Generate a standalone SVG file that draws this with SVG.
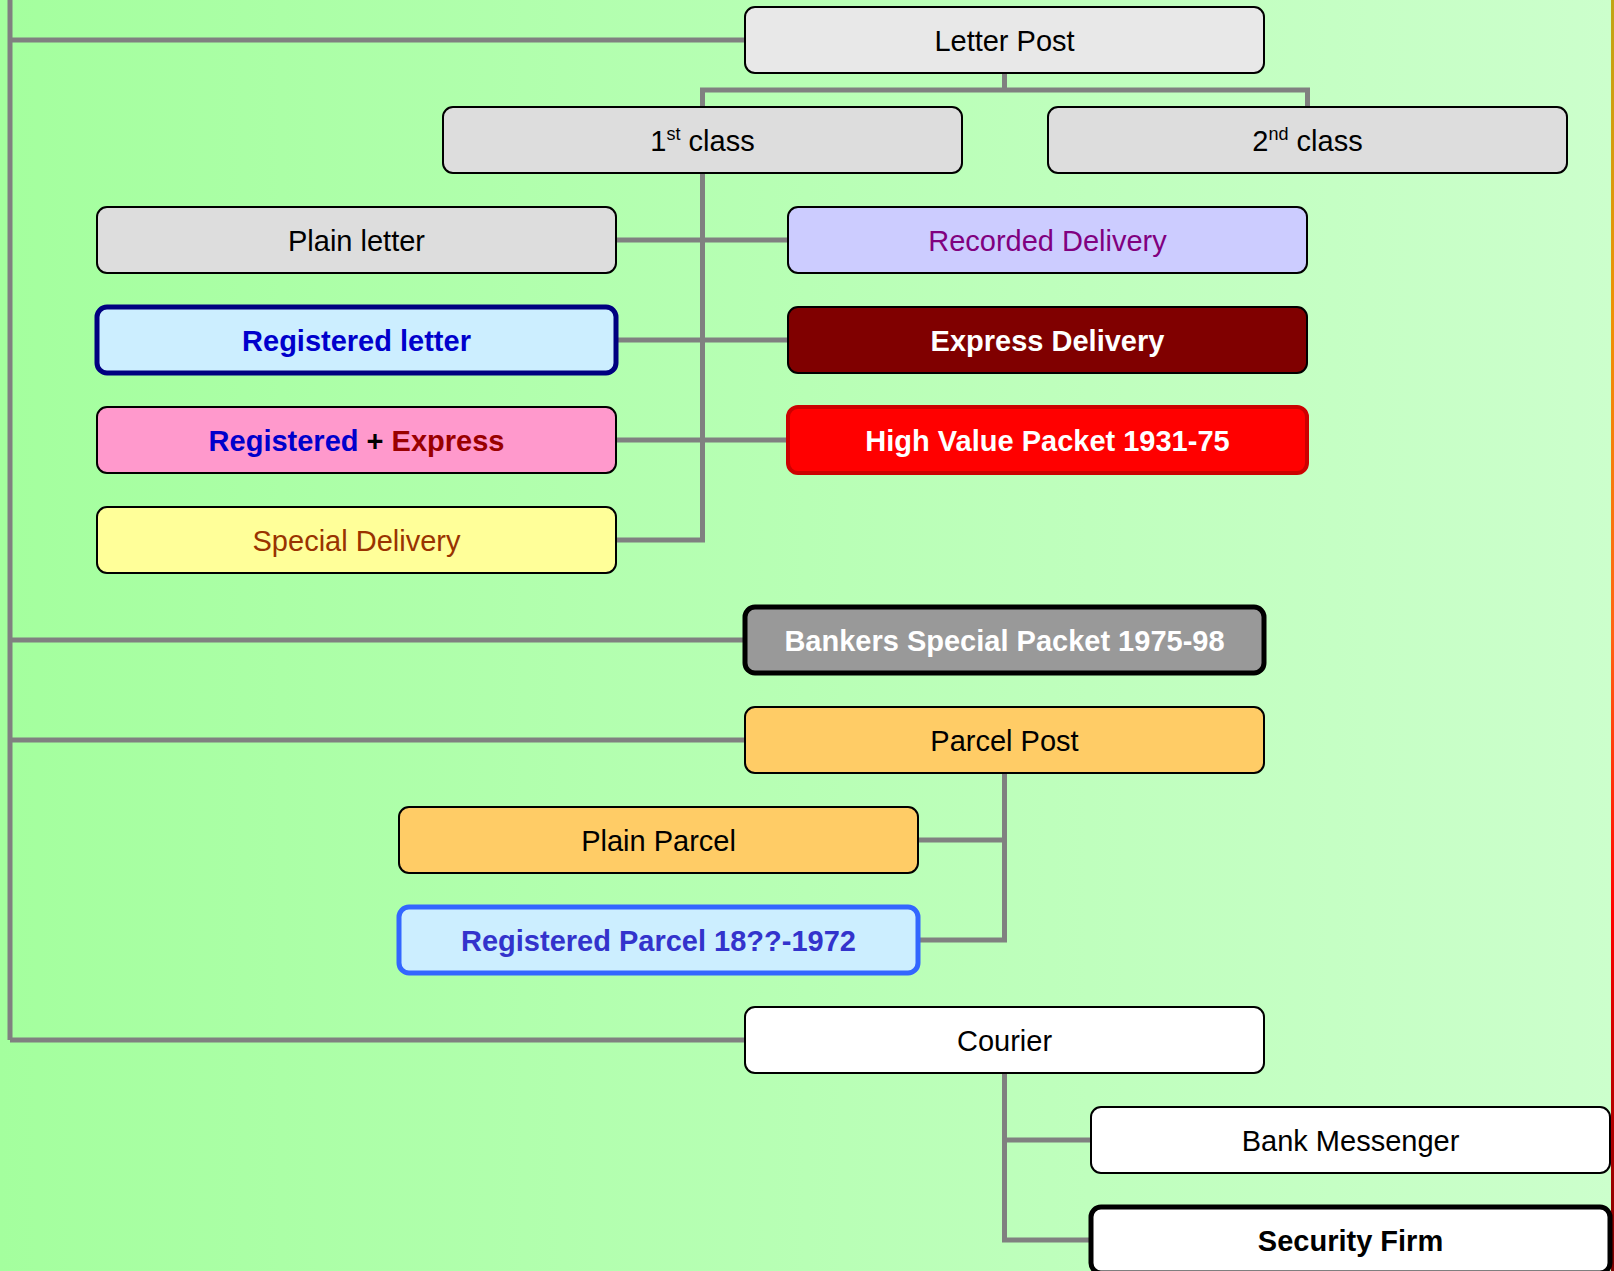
<svg xmlns="http://www.w3.org/2000/svg" width="1614" height="1271" viewBox="0 0 1614 1271">
<defs>
<linearGradient id="bg" x1="0" y1="0" x2="1" y2="0">
<stop offset="0" stop-color="#a4ff9e"/>
<stop offset="1" stop-color="#ccffcc"/>
</linearGradient>
<linearGradient id="edge" x1="0" y1="0" x2="0" y2="1">
<stop offset="0" stop-color="#bfa615"/>
<stop offset="0.25" stop-color="#ee9206"/>
<stop offset="0.5" stop-color="#ff6414"/>
<stop offset="0.72" stop-color="#ff0000"/>
<stop offset="1" stop-color="#7a0000"/>
</linearGradient>
<style>
.box{stroke:#000;stroke-width:2}
.thick{stroke-width:5}
.t{font-family:"Liberation Sans",Arial,sans-serif;font-size:29px;text-anchor:middle}
.b{font-weight:bold}
.sup{font-size:18px}
.c{fill:none;stroke:#808080;stroke-width:5}
</style>
</defs>
<rect x="0" y="0" width="1614" height="1271" fill="url(#bg)"/>
<rect x="1611" y="0" width="3" height="1271" fill="url(#edge)"/>

<g id="connectors" class="c">
<path d="M10,0 V1040"/>
<path d="M10,40 H745"/>
<path d="M10,640 H745"/>
<path d="M10,740 H745"/>
<path d="M10,1040 H745"/>
<path d="M1004.5,73 V90 M702.5,107 V90 H1307.5 V107"/>
<path d="M702.5,173 V540 H616"/>
<path d="M616,240 H788"/>
<path d="M616,340 H788"/>
<path d="M616,440 H788"/>
<path d="M1004.5,773 V940 H918"/>
<path d="M918,840 H1004.5"/>
<path d="M1004.5,1073 V1240 H1091"/>
<path d="M1004.5,1140 H1091"/>
</g>

<g id="letter-post">
<rect class="box" x="745" y="7" width="519" height="66" rx="10" fill="#e8e8e8"/>
<text class="t" x="1004.5" y="50.5">Letter Post</text>
</g>
<g id="first-class">
<rect class="box" x="443" y="107" width="519" height="66" rx="10" fill="#dddddd"/>
<text class="t" x="702.5" y="150.5">1<tspan class="sup" dy="-11">st</tspan><tspan dy="11"> class</tspan></text>
</g>
<g id="second-class">
<rect class="box" x="1048" y="107" width="519" height="66" rx="10" fill="#dddddd"/>
<text class="t" x="1307.5" y="150.5">2<tspan class="sup" dy="-11">nd</tspan><tspan dy="11"> class</tspan></text>
</g>
<g id="plain-letter">
<rect class="box" x="97" y="207" width="519" height="66" rx="10" fill="#dddddd"/>
<text class="t" x="356.5" y="250.5">Plain letter</text>
</g>
<g id="recorded-delivery">
<rect class="box" x="788" y="207" width="519" height="66" rx="10" fill="#ccccff"/>
<text class="t" x="1047.5" y="250.5" fill="#800080">Recorded Delivery</text>
</g>
<g id="registered-letter">
<rect class="box thick" x="97" y="307" width="519" height="66" rx="10" fill="#cceeff" stroke="#000080" style="stroke:#000080"/>
<text class="t b" x="356.5" y="350.5" fill="#0000cc">Registered letter</text>
</g>
<g id="express-delivery">
<rect class="box" x="788" y="307" width="519" height="66" rx="10" fill="#800000"/>
<text class="t b" x="1047.5" y="350.5" fill="#ffffff">Express Delivery</text>
</g>
<g id="registered-express">
<rect class="box" x="97" y="407" width="519" height="66" rx="10" fill="#ff99cc"/>
<text class="t b" x="356.5" y="450.5"><tspan fill="#0000cc">Registered</tspan><tspan fill="#000000"> + </tspan><tspan fill="#990000">Express</tspan></text>
</g>
<g id="high-value-packet">
<rect class="box" x="788" y="407" width="519" height="66" rx="10" fill="#ff0000" style="stroke:#cc0000;stroke-width:4"/>
<text class="t b" x="1047.5" y="450.5" fill="#ffffff">High Value Packet 1931-75</text>
</g>
<g id="special-delivery">
<rect class="box" x="97" y="507" width="519" height="66" rx="10" fill="#ffff99"/>
<text class="t" x="356.5" y="550.5" fill="#993300">Special Delivery</text>
</g>
<g id="bankers-special-packet">
<rect class="box thick" x="745" y="607" width="519" height="66" rx="10" fill="#999999"/>
<text class="t b" x="1004.5" y="650.5" fill="#ffffff">Bankers Special Packet 1975-98</text>
</g>
<g id="parcel-post">
<rect class="box" x="745" y="707" width="519" height="66" rx="10" fill="#ffcc66"/>
<text class="t" x="1004.5" y="750.5">Parcel Post</text>
</g>
<g id="plain-parcel">
<rect class="box" x="399" y="807" width="519" height="66" rx="10" fill="#ffcc66"/>
<text class="t" x="658.5" y="850.5">Plain Parcel</text>
</g>
<g id="registered-parcel">
<rect class="box thick" x="399" y="907" width="519" height="66" rx="10" fill="#cceeff" style="stroke:#3366ff"/>
<text class="t b" x="658.5" y="950.5" fill="#3333cc">Registered Parcel 18??-1972</text>
</g>
<g id="courier">
<rect class="box" x="745" y="1007" width="519" height="66" rx="10" fill="#ffffff"/>
<text class="t" x="1004.5" y="1050.5">Courier</text>
</g>
<g id="bank-messenger">
<rect class="box" x="1091" y="1107" width="519" height="66" rx="10" fill="#ffffff"/>
<text class="t" x="1350.5" y="1150.5">Bank Messenger</text>
</g>
<g id="security-firm">
<rect class="box thick" x="1091" y="1207" width="519" height="66" rx="10" fill="#ffffff"/>
<text class="t b" x="1350.5" y="1250.5">Security Firm</text>
</g>
</svg>
